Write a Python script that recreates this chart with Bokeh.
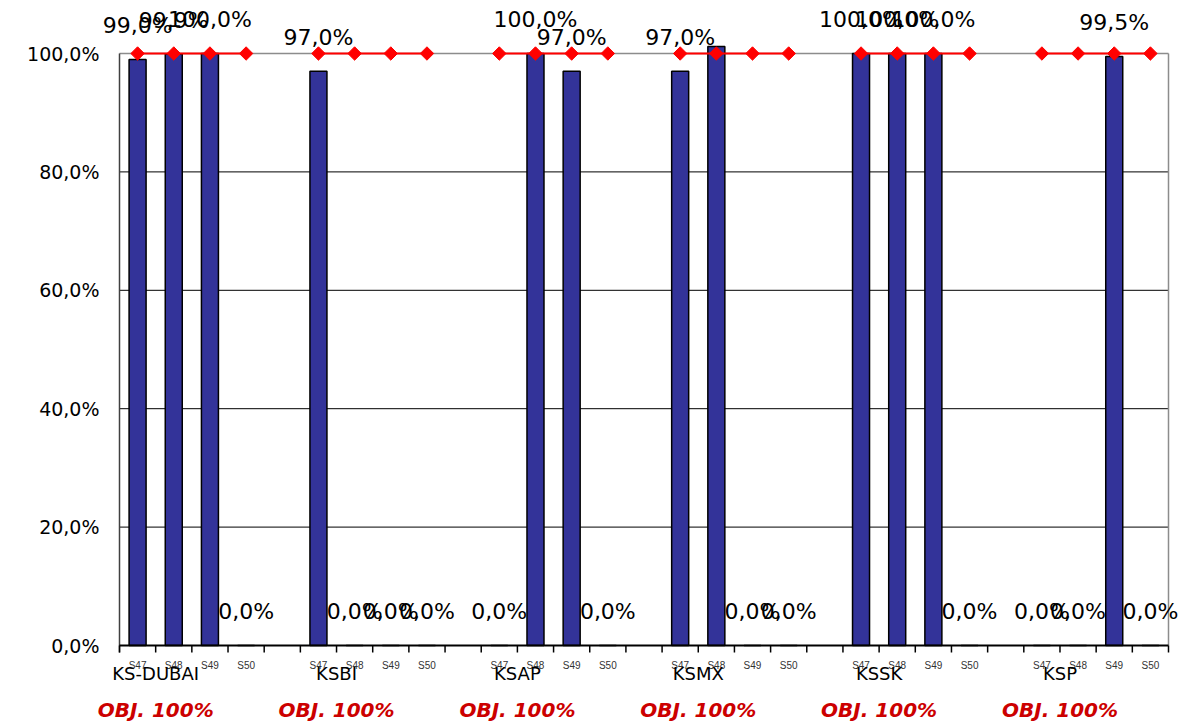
import math
from bokeh.plotting import figure
from bokeh.models import ColumnDataSource, Range1d
from bokeh.core.properties import value
from bokeh.embed import file_html
from bokeh.resources import INLINE

# ---------------- data ----------------
groups = ["KS-DUBAI", "KSBI", "KSAP", "KSMX", "KSSK", "KSP"]
weeks = ["S47", "S48", "S49", "S50"]
objective_text = ["OBJ. 100%", "OBJ. 100%", "OBJ. 100%", "OBJ. 100%", "OBJ. 100%", "OBJ. 100%"]
ks_dubai = [99.0, 99.9, 100.0, 0.0]
ksbi = [97.0, 0.0, 0.0, 0.0]
ksap = [0.0, 100.0, 97.0, 0.0]
ksmx = [97.0, 101.2, 0.0, 0.0]
kssk = [100.0, 100.0, 100.0, 0.0]
ksp = [0.0, 0.0, 99.5, 0.0]
label_shown = [
    [True, True, True, True],
    [True, True, True, True],
    [True, True, True, True],
    [True, False, True, True],
    [True, True, True, True],
    [True, True, True, True],
]
objective = [100.0, 100.0, 100.0, 100.0]
y_ticks = [0, 20, 40, 60, 80, 100]
y_tick_labels = ["0,0%", "20,0%", "40,0%", "60,0%", "80,0%", "100,0%"]

series = [ks_dubai, ksbi, ksap, ksmx, kssk, ksp]

# ---------------- layout constants ----------------
W, H = 1193, 724
PLOT_LEFT, PLOT_RIGHT, PLOT_TOP, PLOT_BOTTOM = 119, 1168, 53, 645
SLOTS_PER_GROUP = len(weeks) + 1
N_SLOTS = len(groups) * SLOTS_PER_GROUP - 1
Y_MIN_V, Y_MAX_V = y_ticks[0], y_ticks[-1]
PX_X = (PLOT_RIGHT - PLOT_LEFT) / N_SLOTS
PX_Y = (PLOT_BOTTOM - PLOT_TOP) / (Y_MAX_V - Y_MIN_V)
x_start = -PLOT_LEFT / PX_X
x_end = x_start + W / PX_X
y_end = Y_MAX_V + PLOT_TOP / PX_Y
y_start = Y_MIN_V - (H - PLOT_BOTTOM) / PX_Y

LABEL_GAP = 34 / PX_Y
TICK_LEN = 7 / PX_Y
WEEK_Y = -19.5 / PX_Y
GROUP_Y = -28.0 / PX_Y
OBJ_Y = -64.0 / PX_Y

bar_x, bar_top, bar_lbl, lbl_y = [], [], [], []
line_x, line_y = [], []
mk_x, mk_y = [], []
wk_x, wk_lbl = [], []
for g, vals in enumerate(series):
    for w, v in enumerate(vals):
        x = g * SLOTS_PER_GROUP + w + 0.5
        bar_x.append(x)
        bar_top.append(v)
        bar_lbl.append(("%.1f%%" % v).replace(".", ",") if label_shown[g][w] else "")
        lbl_y.append(v + LABEL_GAP)
        line_x.append(x)
        line_y.append(objective[w])
        mk_x.append(x)
        mk_y.append(objective[w])
        wk_x.append(x)
        wk_lbl.append(weeks[w])
    if g < len(groups) - 1:
        line_x.append(g * SLOTS_PER_GROUP + len(weeks) + 0.5)
        line_y.append(float("nan"))

grp_x = [g * SLOTS_PER_GROUP + 1 for g in range(len(groups))]

p = figure(width=W, height=H, x_range=Range1d(x_start, x_end), y_range=Range1d(y_start, y_end),
           output_backend="svg", toolbar_location=None, x_axis_type=None, y_axis_type=None,
           min_border=0)
p.background_fill_color = "white"
p.border_fill_color = "white"
p.outline_line_color = None
p.grid.visible = False

# gridlines (20..80)
grid_vals = y_ticks[1:-1]
p.segment(x0=[0] * len(grid_vals), x1=[N_SLOTS] * len(grid_vals), y0=grid_vals, y1=grid_vals,
          line_color="black", line_width=1)

# plot-area border (top and right, gray)
p.segment(x0=[0, N_SLOTS], x1=[N_SLOTS, N_SLOTS], y0=[Y_MAX_V, Y_MIN_V], y1=[Y_MAX_V, Y_MAX_V],
          line_color="#8c8c8c", line_width=1.5)

# bars
bars = ColumnDataSource(dict(x=bar_x, top=bar_top, lbl=bar_lbl, ly=lbl_y))
p.vbar(x="x", top="top", bottom=0, width=0.47, source=bars,
       fill_color="#333399", line_color="black", line_width=1.5)

# left axis line
p.segment(x0=[0], x1=[0], y0=[Y_MIN_V - TICK_LEN], y1=[Y_MAX_V], line_color="#404040", line_width=1.5)
# bottom axis line and ticks
p.segment(x0=[0], x1=[N_SLOTS], y0=[0], y1=[0], line_color="black", line_width=2)
tick_x = list(range(N_SLOTS + 1))
p.segment(x0=tick_x, x1=tick_x, y0=[0] * len(tick_x), y1=[-TICK_LEN] * len(tick_x),
          line_color="black", line_width=1.5)

# y tick labels
p.text(x=[0] * len(y_ticks), y=y_ticks, text=y_tick_labels, x_offset=-20,
       text_align="right", text_baseline="middle", text_font=value("DejaVu Sans"),
       text_font_size="19px", text_color="black")

# objective line
p.line(line_x, line_y, line_color="#FF0000", line_width=2)
p.scatter(mk_x, mk_y, marker="square", angle=math.pi / 4, size=9.5,
          fill_color="#FF0000", line_color="#FF0000")

# data labels
p.text(x="x", y="ly", text="lbl", source=bars, text_align="center", text_baseline="alphabetic",
       text_font=value("DejaVu Sans"), text_font_size="22px", text_color="black")

# week labels
p.text(x=wk_x, y=[WEEK_Y] * len(wk_x), text=wk_lbl, text_align="center", text_baseline="middle",
       text_font=value("Liberation Sans"), text_font_size="10px", text_color="#333333")

# group labels
p.text(x=grp_x, y=[GROUP_Y] * len(grp_x), text=groups, text_align="center", text_baseline="middle",
       text_font=value("DejaVu Sans"), text_font_size="18px", text_color="black")

# objective labels
p.text(x=grp_x, y=[OBJ_Y] * len(grp_x), text=objective_text, text_align="center",
       text_baseline="middle", text_font=value("DejaVu Sans"), text_font_size="20px",
       text_font_style="bold italic", text_color="#CC0000")

open("out.html", "w").write(file_html(p, INLINE))
